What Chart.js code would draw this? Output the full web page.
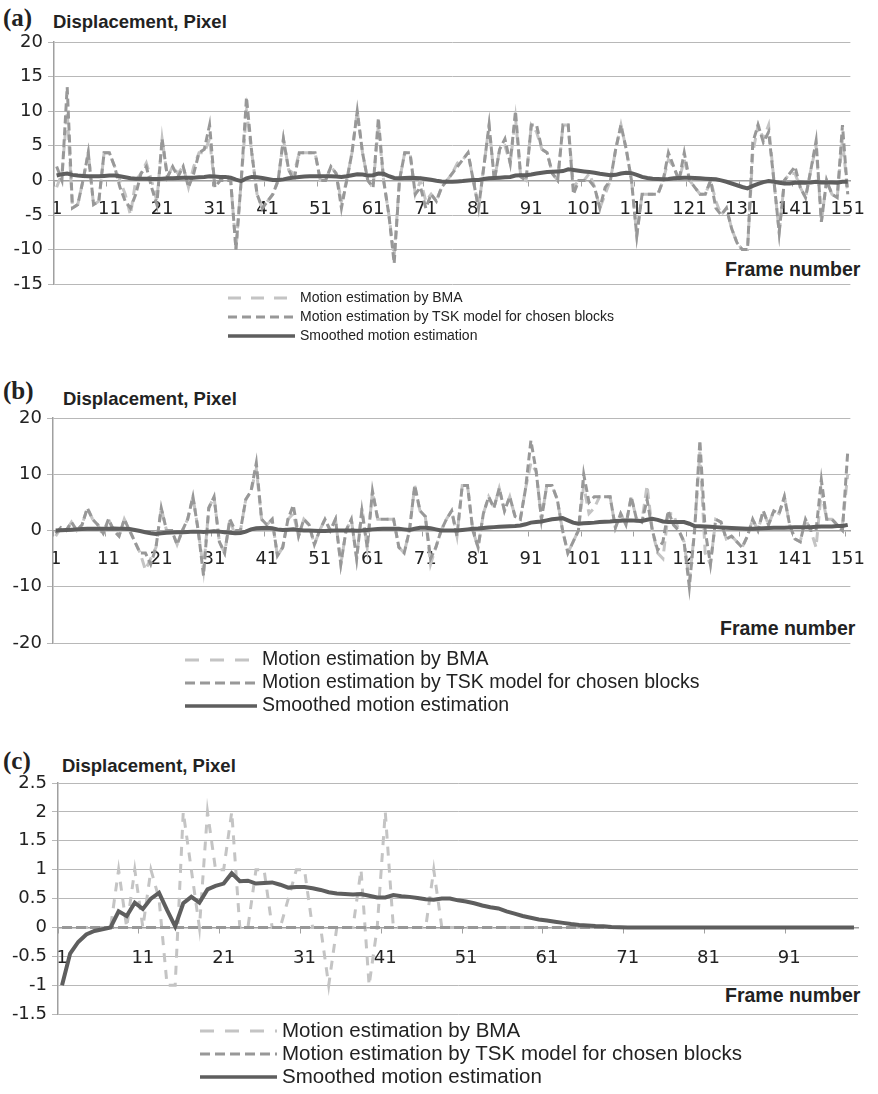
<!DOCTYPE html>
<html>
<head>
<meta charset="utf-8">
<script src="https://cdn.jsdelivr.net/npm/chart.js@4.4.0/dist/chart.umd.min.js"></script>
<style>
  body { margin: 0; background: #fff; width: 878px; height: 1094px; position: relative; overflow: hidden;
         font-family: 'Liberation Sans', Arial, sans-serif; color: #222; }
  canvas { position: absolute; left: 0; }
  .tag { position: absolute; font-family: 'Liberation Serif', serif; font-weight: bold; font-size: 25px; line-height: 1; }
  .ttl { position: absolute; font-weight: bold; font-size: 18.5px; line-height: 1; }
  .xt { position: absolute; font-weight: bold; font-size: 19.5px; line-height: 1; }
  .row { position: absolute; white-space: nowrap; line-height: 1; }
  .row svg { position: absolute; top: 0; }
</style>
</head>
<body>
<div class="tag" style="left:3px;top:5px">(a)</div>
<div class="ttl" style="left:53px;top:13px">Displacement, Pixel</div>
<div class="xt" style="left:725px;top:260px">Frame number</div>
<canvas id="chartA" width="878" height="300" style="top:0px"></canvas>

<div class="tag" style="left:3px;top:378px">(b)</div>
<div class="ttl" style="left:63px;top:390px">Displacement, Pixel</div>
<div class="xt" style="left:720px;top:619px">Frame number</div>
<canvas id="chartB" width="878" height="290" style="top:370px"></canvas>

<div class="tag" style="left:3px;top:748px">(c)</div>
<div class="ttl" style="left:62px;top:757px">Displacement, Pixel</div>
<div class="xt" style="left:725px;top:986px">Frame number</div>
<canvas id="chartC" width="878" height="290" style="top:740px"></canvas>

<script>
var seriesNames = ['Motion estimation by BMA', 'Motion estimation by TSK model for chosen blocks', 'Smoothed motion estimation'];

var framesA = Array.from({ length: 151 }, (_, i) => String(i + 1));
var framesB = Array.from({ length: 151 }, (_, i) => String(i + 1));
var framesC = Array.from({ length: 99 }, (_, i) => String(i + 1));

var yTicksA = [-15, -10, -5, 0, 5, 10, 15, 20];
var yTicksB = [-20, -10, 0, 10, 20];
var yTicksC = [-1.5, -1, -0.5, 0, 0.5, 1, 1.5, 2, 2.5];

// (a)
var bmaA = [
  -1, 1, 10, -4, -3.5, 0, 4, -3.5, -3, 4,
  4, 2, 0, -2, -5, 0, 1, 2.5, 0, -3,
  6, 0.5, 2, 1, 2, -1, 2, 4, 4, 6,
  -1, 0, 1, 0, -10, 0, 10, 4, -2, -4,
  -3, -2, 0, 6, 1.5, 1, 4, 4, 4, 4,
  0, 0, 2, 1, -3, 0, 4, 10, 4, 0,
  -1, 8, 0, -5, -11, 0, 4, 4, -2, 0,
  -3, -2, -3, -1, 0, 1, 2.5, 3, 4, 0,
  -4, 2, 8, 0, 4.5, 5, 2.5, 9, 0.5, 0,
  8, 7, 4.5, 4, 1, 0, 8, 8, -1, 0,
  0, 1, -1, -4, -2, 0, 4.5, 8, 4.5, 0,
  -8, -2, -2, -2, -2, 0, 3, 2, 0, 3,
  0, -1, -2, -2, 0, -3, -5, -4, -7, -9,
  -10, -10, 4, 8, 6, 8, 0, -7.5, 0, 1,
  1, -1, -2.5, 1.5, 5, -6, 0, -2, -2.5, 6, -2
];
var tskA = [
  2, 0, 13.5, -4, -3.5, 0, 4, -3.5, -3, 4,
  4, 2, -1, -3, -4, -2, 1, 2, -1, -3.5,
  6, 0.5, 2, 0.5, 2, -1, 1, 4, 4.5, 8,
  -1, 0, 0, 0, -10, 0, 12, 4, -2, -4,
  -3, -2, 0, 6, 1.5, 0, 4, 4, 4, 4,
  0, 0, 2, 1, -4, 0, 4, 10, 4, 0,
  -1, 9, 0, -5, -12, 0, 4, 4, -2, -1,
  -4, -2, -3, -1, 0, 1, 2, 3, 4, 0,
  -4, 2, 8, 0, 4.5, 6, 2.5, 10, 0.5, 0,
  8, 8, 4.5, 4, 1, 0, 8, 8, -2, 0,
  0, 0, -1, -4, -1, 0, 4.5, 8, 4.5, 0,
  -8, -2, -2, -2, -2, 0, 4, 2, 0, 4,
  0, -1, -2, -2, 0, -4, -5, -4, -7, -9,
  -10, -10, 5.5, 8, 5.5, 7, 0, -7.5, 0, 1,
  2, -1, -2.5, 1.5, 5.7, -6, 0, -2, -2.5, 8, -2
];
var smoothA = [
  0.7, 0.9, 1.0, 0.8, 0.7, 0.65, 0.6, 0.6, 0.6, 0.65,
  0.7, 0.7, 0.6, 0.45, 0.3, 0.25, 0.25, 0.25, 0.2, 0.2,
  0.25, 0.3, 0.3, 0.35, 0.4, 0.4, 0.4, 0.45, 0.5, 0.6,
  0.55, 0.5, 0.5, 0.4, 0.1, -0.1, 0.3, 0.5, 0.45, 0.35,
  0.2, 0.05, 0.05, 0.15, 0.3, 0.4, 0.5, 0.55, 0.6, 0.6,
  0.6, 0.6, 0.6, 0.55, 0.5, 0.6, 0.75, 0.9, 0.85, 0.7,
  0.75, 1.0, 0.95, 0.6, 0.35, 0.3, 0.35, 0.4, 0.35, 0.3,
  0.2, 0.1, -0.05, -0.15, -0.2, -0.2, -0.15, -0.1, 0, 0.05,
  0.05, 0.2, 0.3, 0.35, 0.4, 0.45, 0.5, 0.7, 0.75, 0.75,
  0.85, 1.0, 1.1, 1.2, 1.25, 1.3, 1.35, 1.6, 1.5, 1.4,
  1.3, 1.2, 1.1, 0.95, 0.85, 0.75, 0.8, 1.0, 1.1, 1.05,
  0.8, 0.5, 0.35, 0.25, 0.2, 0.15, 0.2, 0.3, 0.35, 0.4,
  0.4, 0.35, 0.3, 0.25, 0.2, 0.15, 0, -0.2, -0.45, -0.7,
  -0.95, -1.15, -0.8, -0.5, -0.25, -0.1, -0.2, -0.35, -0.45, -0.45,
  -0.35, -0.3, -0.35, -0.3, -0.2, -0.3, -0.3, -0.3, -0.35, -0.2, -0.2
];

// (b)
var bmaB = [
  -1, 0.5, 0, 1.5, 0, 1, 4, 2, 1, -1,
  2, 0, -1, 2, 0, -2, -4, -7, -5, -3,
  4, 0, 0, -2.5, 0, 2, 6, 0, -7, 4,
  6, -2, -4, 2, -1, 0, 5.5, 7, 11, 2,
  1, 2, -4.5, -3, 2, 3, -1, 2, 1, -2.5,
  0, 2, 0, 2, -6, 0, 2, -5, 4, -3,
  7, 2, 2, 2, 2, -3, -4, 0, 8, 3.5,
  2.5, -6, -3, 0, 2, 3.5, -1, 8, 8, 0,
  -3, 3, 6, 4, 7.5, 3.5, 6, 2.5, 2, 7.5,
  12, 10.5, 2, 8, 8, 5.5, 0, -4, -2, 0,
  8, 3, 4, 6, 6, 6, 0.5, 3, 1, 6,
  2, 1.5, 8, 0, -4, -5, 3, 3, 0, -2,
  -9, 0, 14, -4, -6, 2, 1.5, -1.5, -1, -2,
  -3, -1, 2, 0, 3.5, 1, 3.5, 3, 6, 1,
  -1.5, -2, 2, 0, -3, 7, 2, 2, 1, 1, 10
];
var tskB = [
  -0.5, 0.5, 0, 1.5, 0, 1, 4, 2, 1, -0.5,
  2, 0, -1, 2, 0, -2, -4, -4, -6, -3,
  4, 0, 0, -2.5, 0, 2, 6, 0, -8, 4,
  6, -2, -4, 2, 0, 0, 5.5, 7, 12, 2,
  1, 2, -4.5, -3, 2, 4.5, -1, 2, 1, -2.5,
  0, 2, 0, 2, -6, 0, 2, -5, 3.5, -3,
  7, 2, 2, 2, 2, -3, -4, 0, 8, 3.5,
  2.5, -5, -3, 0, 2, 3.5, -1, 8, 8, 0,
  -3, 3, 6, 4, 7.5, 3.5, 6, 2.5, 2, 7.5,
  16, 10.5, 2, 8, 8, 5.5, 0, -4, -2, 0,
  10, 5, 6, 6, 6, 6, 0.5, 3, 1, 6,
  2, 1.5, 5.5, 0, -3.5, -2, 3.5, 1, 0, -2,
  -10, 0, 16, 0, -6, 2, 1.5, -1.5, -1, -2,
  -3, -1, 2, 0, 3.5, 1, 3.5, 3, 6, 1,
  -1.5, -2, 2, 0, 0, 9, 2, 2, 1, 0, 14
];
var smoothB = [
  0, 0.05, 0.1, 0.15, 0.2, 0.25, 0.3, 0.3, 0.3, 0.3,
  0.3, 0.35, 0.3, 0.3, 0.25, 0.1, -0.1, -0.3, -0.5, -0.6,
  -0.5, -0.4, -0.35, -0.3, -0.3, -0.25, -0.2, -0.2, -0.25, -0.2,
  -0.15, -0.2, -0.3, -0.4, -0.5, -0.45, -0.2, 0.2, 0.4, 0.45,
  0.5, 0.4, 0.2, 0.1, 0.15, 0.2, 0.1, 0, 0, -0.05,
  -0.1, -0.1, -0.05, 0, 0, 0, 0, -0.05, 0, 0.1,
  0.2, 0.25, 0.3, 0.3, 0.3, 0.3, 0.2, 0.1, 0.3, 0.5,
  0.5, 0.4, 0.2, 0, 0, 0, 0, 0.1, 0.2, 0.3,
  0.35, 0.45, 0.55, 0.6, 0.65, 0.7, 0.75, 0.8, 0.9, 1.1,
  1.4, 1.5, 1.6, 1.8, 2.0, 2.1, 2.2, 1.8, 1.4, 1.2,
  1.3, 1.35, 1.4, 1.5, 1.55, 1.6, 1.7, 1.75, 1.8, 1.8,
  1.75, 1.7, 1.9, 2.1, 1.9, 1.6, 1.5, 1.5, 1.5, 1.5,
  1.2, 0.8, 0.75, 0.7, 0.65, 0.6, 0.55, 0.5, 0.45, 0.4,
  0.35, 0.3, 0.3, 0.35, 0.4, 0.45, 0.5, 0.5, 0.5, 0.55,
  0.6, 0.6, 0.6, 0.6, 0.65, 0.7, 0.7, 0.7, 0.8, 0.8, 1.0
];

// (c)
var bmaC = [
  0, 0, 0, 0, 0, 0, 0, 1, 0, 1,
  0, 1, 0.5, -1, -1, 2, 1, 0, 2, 1,
  1, 2, 0, 0, 1, 1, 0, 0, 0.5, 1,
  1, 0, 0, -1, 0, 0, 0, 1, -1, 0,
  2, 0, 0, 0, 0, 0, 1, 0, 0, 0,
  0, 0, 0, 0, 0, 0, 0, 0, 0, 0,
  0, 0, 0, 0, 0, 0, 0, 0, 0, 0,
  0, 0, 0, 0, 0, 0, 0, 0, 0, 0,
  0, 0, 0, 0, 0, 0, 0, 0, 0, 0,
  0, 0, 0, 0, 0, 0, 0, 0, 0
];
var tskC = [
  0, 0, 0, 0, 0, 0, 0, 0, 0, 0,
  0, 0, 0, 0, 0, 0, 0, 0, 0, 0,
  0, 0, 0, 0, 0, 0, 0, 0, 0, 0,
  0, 0, 0, 0, 0, 0, 0, 0, 0, 0,
  0, 0, 0, 0, 0, 0, 0, 0, 0, 0,
  0, 0, 0, 0, 0, 0, 0, 0, 0, 0,
  0, 0, 0, 0, 0, 0, 0, 0, 0, 0,
  0, 0, 0, 0, 0, 0, 0, 0, 0, 0,
  0, 0, 0, 0, 0, 0, 0, 0, 0, 0,
  0, 0, 0, 0, 0, 0, 0, 0, 0
];
var smoothC = [
  -1, -0.45, -0.25, -0.12, -0.06, -0.03, 0, 0.28, 0.2, 0.43,
  0.32, 0.5, 0.6, 0.3, 0.02, 0.42, 0.53, 0.43, 0.66, 0.72,
  0.76, 0.94, 0.8, 0.81, 0.76, 0.77, 0.78, 0.74, 0.69, 0.7,
  0.7, 0.68, 0.65, 0.61, 0.59, 0.58, 0.57, 0.58, 0.55, 0.52,
  0.52, 0.56, 0.54, 0.53, 0.51, 0.49, 0.48, 0.5, 0.5, 0.47,
  0.45, 0.42, 0.38, 0.35, 0.33, 0.28, 0.24, 0.2, 0.17, 0.14,
  0.12, 0.1, 0.08, 0.06, 0.045, 0.035, 0.025, 0.02, 0.01, 0.005,
  0, 0, 0, 0, 0, 0, 0, 0, 0, 0,
  0, 0, 0, 0, 0, 0, 0, 0, 0, 0,
  0, 0, 0, 0, 0, 0, 0, 0, 0
];

var LIGHT = '#c4c4c4';
var MID = '#989898';
var DARK = '#5e5e5e';
var GRID = '#b8b8b8';
var AXIS = '#a0a0a0';

function drawPanel(id, frames, bma, tsk, smooth, yTicks, box) {
  var ctx = document.getElementById(id).getContext('2d');
  return new Chart(ctx, {
    type: 'line',
    data: {
      labels: frames,
      datasets: [
        { label: seriesNames[2], data: smooth, borderColor: DARK, borderWidth: 4, pointRadius: 0, order: 0 },
        { label: seriesNames[1], data: tsk, borderColor: MID, borderWidth: 3, borderDash: box.dashT, pointRadius: 0, order: 1 },
        { label: seriesNames[0], data: bma, borderColor: LIGHT, borderWidth: 3, borderDash: box.dashB, pointRadius: 0, order: 2 }
      ]
    },
    options: {
      responsive: false,
      animation: false,
      events: [],
      layout: { padding: { left: 0, right: box.right, top: box.top, bottom: box.bottom } },
      plugins: { legend: { display: false }, tooltip: { enabled: false } },
      scales: {
        x: {
          type: 'category',
          offset: true,
          position: { y: 0 },
          ticks: {
            autoSkip: false,
            maxRotation: 0,
            padding: box.xPad,
            color: '#222',
            font: { family: 'DejaVu Sans', size: 18 },
            callback: function (v, i) { return i % 10 === 0 ? this.getLabelForValue(v) : ''; }
          },
          grid: {
            drawOnChartArea: false,
            offset: true,
            tickLength: 5,
            color: function (c) { return c.index % 10 === 0 ? AXIS : 'rgba(0,0,0,0)'; }
          },
          border: { color: AXIS, width: 1.5 }
        },
        y: {
          min: yTicks[0],
          max: yTicks[yTicks.length - 1],
          afterFit: function (s) { s.width = box.left; },
          ticks: {
            stepSize: yTicks[1] - yTicks[0],
            padding: 5,
            color: '#222',
            font: { family: 'DejaVu Sans', size: 18 },
            callback: function (v) { return String(v); }
          },
          grid: { color: GRID, lineWidth: 1, tickLength: 6 },
          border: { color: AXIS, width: 1.5 }
        }
      }
    }
  });
}

function addLegend(x0, textX, rows, fontSize, dashB, dashT) {
  var styles = [
    { color: LIGHT, dash: dashB, w: 3 },
    { color: MID, dash: dashT, w: 3 },
    { color: DARK, dash: null, w: 3.5 }
  ];
  for (var i = 0; i < 3; i++) {
    var row = document.createElement('div');
    row.className = 'row';
    row.style.left = x0 + 'px';
    row.style.top = (rows[i] - 10) + 'px';
    row.style.height = '20px';
    var sw = textX - x0 - 5;
    var dashAttr = styles[i].dash ? ' stroke-dasharray="' + styles[i].dash.join(',') + '"' : '';
    row.innerHTML = '<svg width="' + sw + '" height="20"><line x1="0" y1="10" x2="' + sw + '" y2="10" stroke="' +
      styles[i].color + '" stroke-width="' + styles[i].w + '"' + dashAttr + '/></svg>' +
      '<span style="position:absolute;left:' + (textX - x0) + 'px;top:' + (10 - fontSize * 0.55) + 'px;font-size:' +
      fontSize + 'px">' + seriesNames[i] + '</span>';
    document.body.appendChild(row);
  }
}

window.addEventListener('load', function () {
  drawPanel('chartA', framesA, bmaA, tskA, smoothA, yTicksA,
    { left: 54, right: 24, top: 42, bottom: 15, xPad: 13, dashB: [10, 6], dashT: [8, 4] });
  drawPanel('chartB', framesB, bmaB, tskB, smoothB, yTicksB,
    { left: 53, right: 26, top: 48, bottom: 17, xPad: 13, dashB: [10, 6], dashT: [8, 4] });
  drawPanel('chartC', framesC, bmaC, tskC, smoothC, yTicksC,
    { left: 58, right: 20, top: 43, bottom: 14, xPad: 15, dashB: [9, 8], dashT: [10, 4] });

  addLegend(228, 300, [298, 317, 336], 14, [13, 10], [9, 5]);
  addLegend(185, 262, [660, 683, 706], 19.5, [14, 11], [10, 5]);
  addLegend(200, 282, [1031, 1054, 1077], 20.5, [14, 11], [10, 5]);
});
</script>
</body>
</html>
